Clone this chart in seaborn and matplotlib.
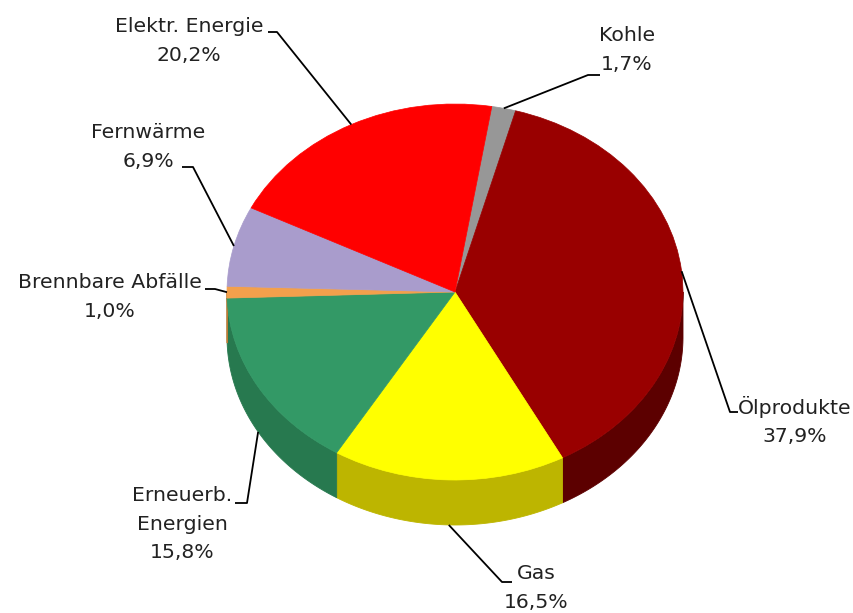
import numpy as np
import matplotlib
matplotlib.use("Agg")
import matplotlib.pyplot as plt
import seaborn as sns

# Endenergieverbrauch nach Energieträgern (Anteile in %)
categories = ["Kohle", "Ölprodukte", "Gas", "Erneuerb.\nEnergien",
              "Brennbare Abfälle", "Fernwärme", "Elektr. Energie"]
shares = [1.7, 37.9, 16.5, 15.8, 1.0, 6.9, 20.2]

top_colors = ["#979797", "#990000", "#ffff00", "#339966",
              "#f3a04c", "#a99ccc", "#ff0000"]
side_colors = ["#6a6a6a", "#5c0000", "#bdb500", "#27794f",
               "#c27a32", "#7d72a0", "#b00000"]

# label block centres and leader-line knees (pixel coordinates)
label_xy = [(627, 50), (795, 421), (536, 588), (182, 524),
            (110, 297), (148, 147), (189, 41)]
leader_knees = [((600, 75), (588, 75)), ((738, 412), (730, 412)),
                ((512, 582), (502, 582)), ((235, 503), (247, 503)),
                ((205, 289), (215, 289)), ((182, 167), (193, 167)),
                ((268, 32), (277, 32))]

W, H = 854, 613
CX, CY, RX, RY = 455, 292, 228, 188   # ellipse of the top face in pixels
DEPTH = 45 / RY                        # thickness of the side wall
START = 9.3                            # first slice edge, degrees clockwise from 12 o'clock

sns.set_theme(style="white")
plt.rcParams["font.family"] = ["DejaVu Sans"]

fig = plt.figure(figsize=(W / 100, H / 100), dpi=100)
fig.patch.set_facecolor("white")
ax = fig.add_axes([0, 0, 1, 1])


def px(x, y):
    return (x - CX) / RX, (CY - y) / RY


def rim(theta_deg, drop=0.0):
    t = np.radians(theta_deg)
    return np.sin(t), np.cos(t) - drop


bounds = START + 360 * np.concatenate([[0], np.cumsum(shares)]) / sum(shares)

# side wall of the front half
for i in range(len(shares)):
    a, b = max(bounds[i], 90), min(bounds[i + 1], 270)
    if b <= a:
        continue
    t = np.linspace(a, b, 120)
    xs, ys = rim(t)
    ax.fill(np.concatenate([xs, xs[::-1]]),
            np.concatenate([ys, ys[::-1] - DEPTH]),
            color=side_colors[i], lw=0.6, ec=side_colors[i], zorder=1)

# top face
wedges, _ = ax.pie(shares, colors=top_colors, startangle=90 - START,
                   counterclock=False, radius=1, center=(0, 0))
for w in wedges:
    w.set_edgecolor(w.get_facecolor())
    w.set_linewidth(0.5)
    w.set_zorder(2)

ax.set_aspect("auto")
ax.set_xlim(px(0, 0)[0], px(W, 0)[0])
ax.set_ylim(px(0, H)[1], px(0, 0)[1])
ax.axis("off")

# labels with leader lines
for i, (name, val) in enumerate(zip(categories, shares)):
    mid = (bounds[i] + bounds[i + 1]) / 2
    ax_, ay_ = rim(mid, DEPTH if 100 < mid < 260 else 0.0)
    (k1x, k1y), (k2x, k2y) = leader_knees[i]
    p1, p2 = px(k1x, k1y), px(k2x, k2y)
    ax.plot([p1[0], p2[0], ax_], [p1[1], p2[1], ay_],
            color="black", lw=1.3, zorder=3, solid_capstyle="butt")
    pct = f"{val:.1f}".replace(".", ",") + "%"
    tx, ty = px(*label_xy[i])
    ax.text(tx, ty, f"{name}\n{pct}", ha="center", va="center",
            fontsize=14.7, color="#222222", linespacing=1.62, zorder=4)

fig.savefig("out.png", dpi=100, facecolor="white")
